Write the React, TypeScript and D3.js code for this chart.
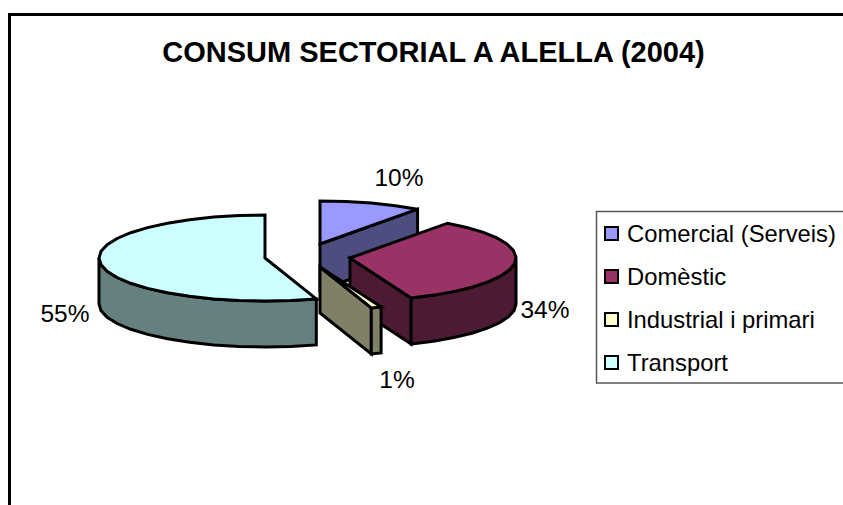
import React from "react";
import * as d3 from "d3";

const title = "CONSUM SECTORIAL A ALELLA (2004)";
const categories = ["Comercial (Serveis)", "Domèstic", "Industrial i primari", "Transport"];
const shares = [10, 34, 1, 55];
const topColors = ["#9999FF", "#993366", "#FFFFCC", "#CCFFFF"];
const wallColors = ["#4D4D80", "#4D1A33", "#808066", "#668080"];
const labels = ["10%", "34%", "1%", "55%"];
const apexX = [320, 350, 320, 265];
const apexY = [244, 258, 267, 258];
const labelX = [399, 545, 397, 65];
const labelY = [186, 318, 388, 322];
const legendY = [234, 277, 320, 363];

const RX = 166, RY = 43, DEPTH = 46;
const slices = d3.pie<number>().sort(null)(shares);
const line = d3.line();

function arcPoints(a0: number, a1: number, cx: number, cy: number, dy = 0): [number, number][] {
  const n = Math.max(1, Math.round(((a1 - a0) * 180) / Math.PI / 9));
  return d3.range(n + 1).map((i) => {
    const a = a0 + ((a1 - a0) * i) / n;
    return [cx + RX * Math.sin(a), cy - RY * Math.cos(a) + dy] as [number, number];
  });
}

function Slice({ i }: { i: number }) {
  const { startAngle: s, endAngle: e } = slices[i];
  const cx = apexX[i], cy = apexY[i];
  const common = { stroke: "#000", strokeWidth: 3, strokeLinejoin: "miter" as const };
  const ePt = arcPoints(e, e, cx, cy)[0];
  const cut: [number, number][] = [[cx, cy], ePt, [ePt[0], ePt[1] + DEPTH], [cx, cy + DEPTH]];
  const w0 = Math.max(s, Math.PI / 2), w1 = Math.min(e, (3 * Math.PI) / 2);
  const top = arcPoints(w0, w1, cx, cy);
  const wall = [...top, ...top.slice().reverse().map(([x, y]) => [x, y + DEPTH] as [number, number])];
  const face: [number, number][] = [[cx, cy], ...arcPoints(s, e, cx, cy)];
  return (
    <g>
      {e < Math.PI * 1.5 && <path d={line(cut)! + "Z"} fill={wallColors[i]} {...common} />}
      {w1 > w0 && <path d={line(wall)! + "Z"} fill={wallColors[i]} {...common} />}
      <path d={line(face)! + "Z"} fill={topColors[i]} {...common} />
    </g>
  );
}

export default function App() {
  const sans = "'Liberation Sans', Arial, sans-serif";
  return (
    <svg width={843} height={505} style={{ position: "absolute", left: 0, top: 0, background: "#fff" }}>
      <path d="M9.5,505V14.5H843" fill="none" stroke="#000" strokeWidth={3} />
      <text x={433.5} y={62} textAnchor="middle" fontFamily={sans} fontWeight="bold" fontSize={29} fill="#000">
        {title}
      </text>
      {[0, 1, 2, 3].map((i) => (
        <Slice key={i} i={i} />
      ))}
      {labels.map((t, i) => (
        <text key={t} x={labelX[i]} y={labelY[i]} textAnchor="middle" fontFamily={sans} fontSize={24.5} fill="#000">
          {t}
        </text>
      ))}
      <path d="M843,211.5H596.5V383H843" fill="#fff" stroke="#555" strokeWidth={1.5} />
      {categories.map((c, i) => (
        <g key={c}>
          <rect x={605} y={legendY[i] - 7} width={13} height={13} fill={topColors[i]} stroke="#000" strokeWidth={2} />
          <text x={627} y={legendY[i] + 8} fontFamily={sans} fontSize={23.8} fill="#000">
            {c}
          </text>
        </g>
      ))}
    </svg>
  );
}
